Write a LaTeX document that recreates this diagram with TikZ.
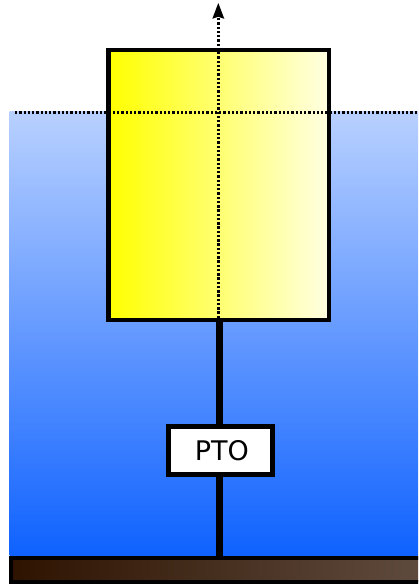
\documentclass[tikz,border=0pt]{standalone}
\usepackage{fontspec}
\setmainfont{DejaVu Sans}
\definecolor{watertop}{HTML}{B8D0FF}
\definecolor{waterbot}{HTML}{0F62FF}
\definecolor{groundl}{HTML}{2E1300}
\definecolor{groundr}{HTML}{5F4B3E}
\definecolor{boxr}{HTML}{FFFFE2}
\tikzset{
  every node/.style={outer sep=0pt},
  water/.style={top color=watertop,bottom color=waterbot,draw=none,rectangle,inner sep=0pt,minimum width=408.5bp,minimum height=443.5bp,anchor=north west},
  float/.style={left color=yellow,right color=boxr,draw=black,line width=4.4bp,rectangle,inner sep=0pt,minimum width=220.4bp,minimum height=270bp,anchor=north west},
  ptobox/.style={fill=white,draw=black,line width=4.7bp,rectangle,inner sep=0pt,minimum width=104.3bp,minimum height=47.7bp,font=\fontsize{27bp}{30bp}\selectfont},
  ground/.style={left color=groundl,right color=groundr,draw=black,line width=4bp,rectangle,inner sep=0pt,minimum width=412bp,minimum height=24bp,anchor=north west},
  rod/.style={line width=6.7bp,draw=black},
  dots/.style={line width=2.6bp,draw=black,dash pattern=on 2.3bp off 1.95bp}
}
\begin{document}
\begin{tikzpicture}[x=1bp,y=-1bp]
\useasboundingbox[fill=white] (0,0) rectangle (418,585);
\clip (0,0) rectangle (418,585);
\node[water] (sea) at (9.5,112) {};
\node[ground] (bed) at (11,557.7) {};
\node[float] (buoy) at (108.3,50) {};
\coordinate (rodtop) at (219.3,320);
\coordinate (rodbot) at (219.3,556);
\draw[rod] (rodtop) -- (rodbot);
\node[ptobox] (pto) at (220.5,450.5) {\hspace{2.6bp}PTO};
\coordinate (tip) at (218.3,3);
\coordinate (start) at (218.3,318);
\coordinate (hl) at (15,112.6);
\coordinate (hr) at (418,112.6);
\draw[dots] (start) -- (218.3,18);
\fill[black] (tip) -- (224.3,18.8) -- (218.3,16.8) -- (212.3,18.8) -- cycle;
\draw[dots] (hl) -- (hr);
\end{tikzpicture}
\end{document}
